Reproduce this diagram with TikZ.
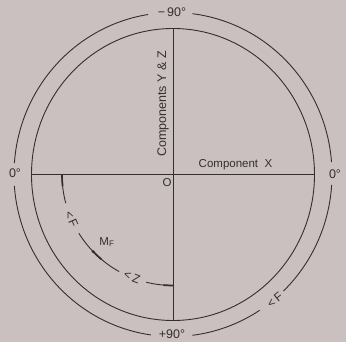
\documentclass[tikz,border=0pt]{standalone}
\usepackage{fontspec}
\setmainfont{Liberation Sans}
\usetikzlibrary{positioning, calc}
\definecolor{paperbg}{RGB}{201,192,191}
\definecolor{inkgray}{RGB}{52,47,47}

\begin{document}
\begin{tikzpicture}[x=1pt, y=1pt,
    ink/.style={draw=inkgray, line width=0.9pt},
    tip/.style={draw=inkgray, line width=1.7pt},
    lbl/.style={font=\fontsize{11.5}{13}\selectfont, text=inkgray, inner sep=1pt},
    deg/.style={font=\fontsize{12.5}{14}\selectfont, text=inkgray, inner sep=1pt},
    ang/.style={font=\fontsize{12}{14}\selectfont, text=inkgray, inner sep=0.5pt}
]

% Background
\fill[paperbg] (-173,-167.5) rectangle (173,174.5);
\useasboundingbox (-173,-167.5) rectangle (173,174.5);

% Inner circle and axes
\coordinate (O) at (0,0);
\coordinate (west)  at (180:141.5pt and 146pt);
\coordinate (east)  at (0:141.5pt and 146pt);
\coordinate (north) at (90:141.5pt and 146pt);
\coordinate (south) at (270:141.5pt and 146pt);
\draw[ink] (O) ellipse[x radius=141.5pt, y radius=146pt];
\draw[ink] (west) -- (east);
\draw[ink] (north) -- (south);

% Outer circle, broken for the labels
\foreach \a/\b in {4.4/83, 99/176, 184/262, 277/303, 314/356.3}
  \draw[ink] (\a:159pt and 162pt) arc[start angle=\a, end angle=\b,
                                      x radius=159pt, y radius=162pt];

% Inner arc in the lower left quadrant
\foreach \a/\b in {180/195, 212/241, 256/270}
  \draw[ink] (\a:111pt) arc[start angle=\a, end angle=\b, radius=111pt];
\draw[tip] (180:111pt) arc[start angle=180, end angle=186, radius=111pt];
\draw[tip] (265:111pt) arc[start angle=265, end angle=270, radius=111pt];
\draw[tip] (224:111pt) arc[start angle=224, end angle=230, radius=111pt];
\fill[inkgray] (224:111pt) circle (1.7pt);

% Labels
\node[deg] (topdeg)   at (-1,162.5)   {−\,90°};
\node[deg] (botdeg)   at (-1,-159.5)  {+90°};
\node[deg] (leftdeg)  at (-158,1.5)   {0°};
\node[deg] (rightdeg) at (162,0.5)    {0°};
\node[lbl] (compx)    at (62.5,9.5)   {Component\ \ X};
\node[lbl, rotate=90, font=\fontsize{12.5}{14}\selectfont] (compyz)
     at (-10,70.5) {Components Y \& Z};
\node[lbl] (origin)   at (-6,-8.5)    {O};
\node[lbl] (mf)       at (-66,-67.5)  {M\textsubscript{F}};
\node[ang, rotate=-66] (angf)  at (-101.5,-44.5) {<\,F};
\node[ang, rotate=-21] (angz)  at (-41,-102.5)   {<\,Z};
\node[ang, rotate=39]  (angfo) at (102,-125.5)   {<\,F};

\end{tikzpicture}
\end{document}
